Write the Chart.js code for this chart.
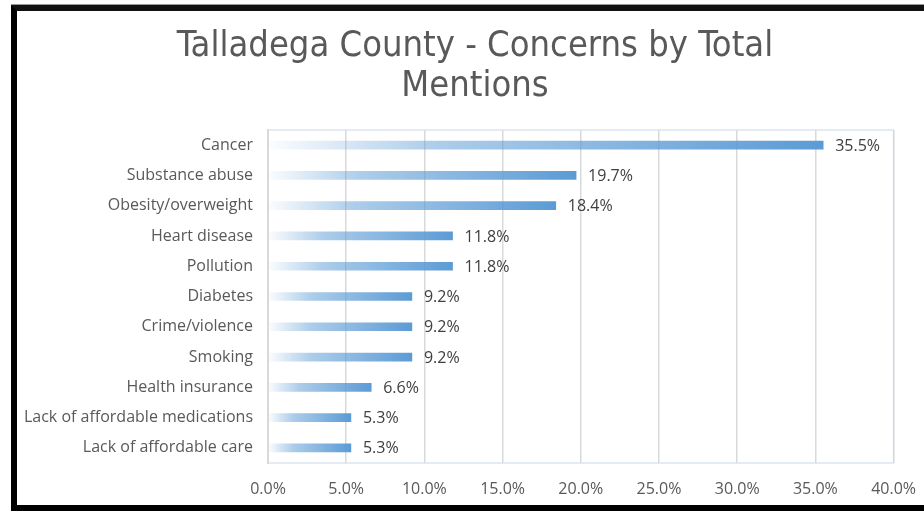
<!DOCTYPE html>
<html>
<head>
<meta charset="utf-8">
<script src="https://cdn.jsdelivr.net/npm/chart.js@4.4.1/dist/chart.umd.min.js"></script>
<style>
  html, body { margin: 0; padding: 0; background: #fff; overflow: hidden; }
  #wrap { position: absolute; left: 0; top: 0; width: 924px; height: 511px; overflow: hidden; }
  #frame {
    position: absolute; left: 11px; top: 5px; width: 940px; height: 506px;
    box-sizing: border-box; border: 6px solid #000; border-top-color: #111;
    box-shadow: 0 -1px 0 #999; pointer-events: none;
  }
</style>
</head>
<body>
<div id="wrap"><canvas id="chart" width="933" height="511"></canvas></div>
<div id="frame"></div>
<script>
// Chart data
const titleLines = ['Talladega County - Concerns by Total', 'Mentions'];
const concerns = [
  'Cancer', 'Substance abuse', 'Obesity/overweight', 'Heart disease', 'Pollution',
  'Diabetes', 'Crime/violence', 'Smoking', 'Health insurance',
  'Lack of affordable medications', 'Lack of affordable care'
];
const mentionShare = [35.5, 19.7, 18.4, 11.8, 11.8, 9.2, 9.2, 9.2, 6.6, 5.3, 5.3];
const axisMin = 0;
const axisMax = 40;
const axisStep = 5;

const textColor = '#595959';
const barBlue = '91,155,213';
const labelFont = '"Open Sans", sans-serif';

// fade each bar from white at 0% to solid blue at its end
function barGradient(ctx) {
  const chart = ctx.chart;
  if (!chart.chartArea || ctx.raw == null) return 'rgb(' + barBlue + ')';
  const xs = chart.scales.x;
  const x0 = xs.getPixelForValue(0);
  const x1 = xs.getPixelForValue(ctx.raw);
  const g = chart.ctx.createLinearGradient(x0, 0, x1, 0);
  g.addColorStop(0, 'rgba(' + barBlue + ',0.02)');
  g.addColorStop(0.3, 'rgba(' + barBlue + ',0.5)');
  g.addColorStop(1, 'rgba(' + barBlue + ',1)');
  return g;
}

// title is centred on the framed box, not on the plot, so draw it here
const frameTitle = {
  id: 'frameTitle',
  afterDraw(chart) {
    const { ctx } = chart;
    ctx.save();
    ctx.font = '36px "DejaVu Sans Condensed", "DejaVu Sans", sans-serif';
    ctx.fillStyle = textColor;
    ctx.textAlign = 'center';
    ctx.textBaseline = 'alphabetic';
    titleLines.forEach((line, i) => ctx.fillText(line, 475, 56 + i * 40));
    ctx.restore();
  }
};

// plot area outline (light blue) drawn behind the grid
const plotFrame = {
  id: 'plotFrame',
  beforeDraw(chart) {
    const { ctx, chartArea: a } = chart;
    ctx.save();
    ctx.strokeStyle = '#dbe5f1';
    ctx.lineWidth = 1.5;
    ctx.strokeRect(a.left, a.top, a.right - a.left, a.bottom - a.top);
    ctx.restore();
  }
};

// percentage labels at the end of each bar
const valueLabels = {
  id: 'valueLabels',
  afterDatasetsDraw(chart) {
    const { ctx } = chart;
    const meta = chart.getDatasetMeta(0);
    ctx.save();
    ctx.font = '16px ' + labelFont;
    ctx.fillStyle = '#404040';
    ctx.textAlign = 'left';
    ctx.textBaseline = 'middle';
    meta.data.forEach((bar, i) => {
      ctx.fillText(mentionShare[i].toFixed(1) + '%', bar.x + 12, bar.y + 1);
    });
    ctx.restore();
  }
};

new Chart(document.getElementById('chart'), {
  type: 'bar',
  data: {
    labels: concerns,
    datasets: [{
      data: mentionShare,
      backgroundColor: barGradient,
      borderWidth: 0,
      barThickness: 8
    }]
  },
  plugins: [plotFrame, valueLabels, frameTitle],
  options: {
    indexAxis: 'y',
    responsive: false,
    animation: false,
    layout: { padding: { left: 20, right: 0, top: 130, bottom: 0 } },
    plugins: {
      legend: { display: false },
      tooltip: { enabled: false },
      title: { display: false }
    },
    scales: {
      x: {
        min: axisMin,
        max: axisMax,
        grid: { color: '#d9d9d9', lineWidth: 1.5, drawTicks: false },
        border: { display: false },
        afterFit(scale) { scale.height = 48; },
        ticks: {
          stepSize: axisStep,
          padding: 17,
          color: textColor,
          font: { family: labelFont, size: 16 },
          maxRotation: 0,
          callback: v => v.toFixed(1) + '%'
        }
      },
      y: {
        grid: { display: false, drawTicks: false },
        border: { display: true, color: '#d9d9d9', width: 2 },
        afterFit(scale) { scale.width = 268 - 20; },
        ticks: {
          padding: 15,
          color: textColor,
          font: { family: labelFont, size: 16 }
        }
      }
    }
  }
});
</script>
</body>
</html>
